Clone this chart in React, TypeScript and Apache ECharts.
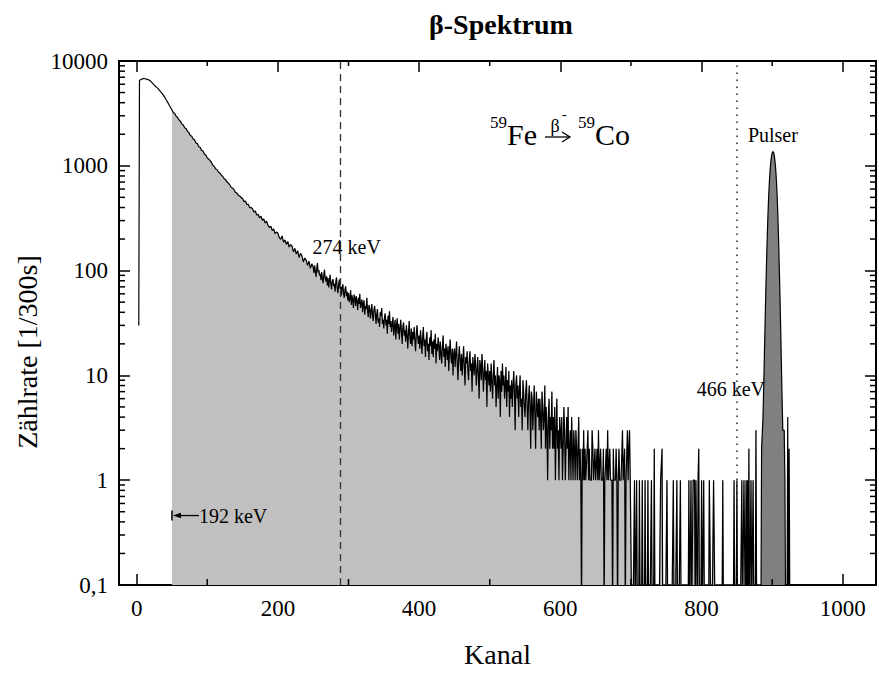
import React, { useEffect, useRef } from "react";
import * as echarts from "echarts";

// ---------- axis ranges & ticks ----------
const X_MIN = -25;
const X_MAX = 1047;
const Y_MIN = 0.1;
const Y_MAX = 10000;
const xMajorTicks = [0, 200, 400, 600, 800, 1000];
const xMinorTicks = [100, 300, 500, 700, 900];
const yDecades = [0.1, 1, 10, 100, 1000];
const yMinorFactors = [2, 3, 4, 5, 6, 7, 8, 9];

// ---------- spectrum (counts per channel) ----------
const startChannel = 3;
const startCount = 30;
// channels 4..48, step 2
const headCounts = [
  6500, 6650, 6760, 6790, 6770, 6720, 6650, 6560, 6400, 6190, 5990, 5800,
  5630, 5480, 5290, 5070, 4910, 4690, 4480, 4240, 4030, 3810, 3600,
];
// channels 50..248, step 2
const betaCounts1 = [
  3402, 3230, 3145, 2968, 2890, 2731, 2665, 2510, 2449, 2310, 2262, 2131, 2079,
  1951, 1912, 1803, 1770, 1652, 1629, 1521, 1497, 1398, 1384, 1289, 1270,
  1188, 1164, 1118, 1071, 1009, 985, 931, 917, 869, 851, 815, 790, 752, 738,
  699, 683, 655, 621, 611, 590, 556, 549, 522, 515, 497,
  488, 455, 461, 427, 430, 398, 401, 389, 362, 371, 339, 345, 318, 331, 302,
  311, 285, 296, 270, 258, 266, 241, 250, 226, 233,
  228, 206, 199, 214, 187, 196, 178, 190, 168, 177, 172, 151, 163, 144, 155,
  133, 146, 139, 121, 132, 126, 112, 123, 105, 116,
];
// channels 250..599, every channel
const betaCounts2 = [
  108, 95, 112, 99, 87, 104, 118, 96, 101, 90,
  93, 81, 97, 85, 76, 90, 102, 84, 79, 88,
  72, 85, 69, 80, 91, 74, 66, 79, 83, 71,
  75, 63, 78, 86, 68, 61, 73, 82, 67, 71,
  58, 69, 74, 60, 55, 66, 71, 57, 63, 52,
  61, 50, 54, 65, 47, 58, 52, 44, 59, 55,
  46, 57, 51, 42, 55, 48, 60, 44, 49, 53,
  40, 49, 52, 38, 46, 43, 55, 41, 36, 47,
  44, 35, 41, 48, 37, 33, 42, 46, 39, 31,
  38, 43, 32, 35, 29, 40, 37, 44, 31, 34,
  28, 36, 39, 30, 34, 25, 37, 31, 41, 29,
  33, 26, 31, 36, 24, 29, 34, 22, 30, 35,
  25, 31, 22, 28, 34, 26, 20, 29, 32, 24,
  27, 21, 30, 24, 18, 26, 33, 23, 20, 28,
  19, 26, 22, 29, 21, 17, 25, 30, 23, 20,
  24, 18, 27, 21, 16, 23, 29, 19, 22, 15,
  22, 26, 17, 20, 14, 23, 19, 27, 16, 21,
  15, 22, 18, 25, 13, 20, 17, 23, 19, 14,
  21, 16, 13, 19, 24, 15, 18, 12, 20, 17,
  14, 19, 11, 17, 22, 15, 13, 18, 10, 16,
  18, 12, 16, 21, 13, 9, 15, 19, 14, 11,
  16, 10, 14, 19, 12, 8, 15, 13, 17, 11,
  9, 14, 17, 11, 13, 7, 15, 12, 10, 16,
  13, 8, 11, 15, 10, 6, 14, 12, 9, 16,
  12, 7, 10, 14, 9, 11, 5, 13, 10, 8,
  11, 7, 13, 9, 6, 10, 14, 8, 10, 5,
  8, 12, 6, 10, 9, 4, 11, 7, 13, 8,
  10, 6, 8, 12, 5, 9, 7, 11, 4, 8,
  6, 9, 5, 8, 11, 7, 3, 8, 10, 6,
  8, 4, 7, 10, 5, 6, 3, 9, 7, 5,
  4, 7, 9, 5, 3, 6, 8, 5, 2, 7,
  6, 3, 5, 8, 4, 2, 7, 5, 4, 6,
  3, 6, 4, 2, 7, 5, 3, 4, 8, 2,
  5, 3, 1, 4, 6, 2, 4, 3, 7, 2,
  4, 2, 5, 1, 3, 6, 2, 3, 1, 4,
];
// channels 600..700, every channel
const edgeCounts = [
  3, 2, 4, 1, 2, 5, 3, 1, 2, 4,
  2, 5, 1, 2, 3, 1, 4, 2, 1, 3,
  2, 1, 3, 2, 1, 2, 4, 1, 2, 1,
  0, 2, 1, 3, 1, 2, 1, 1, 2, 3,
  1, 2, 1, 1, 1, 3, 2, 1, 1, 2,
  1, 1, 2, 1, 3, 1, 1, 2, 1, 1,
  1, 2, 0, 1, 1, 2, 1, 3, 1, 1,
  2, 1, 1, 1, 0, 2, 1, 1, 1, 2,
  1, 0, 1, 2, 1, 1, 1, 1, 3, 1,
  1, 2, 0, 1, 1, 3, 1, 2, 3, 1,
  1,
];
// channels 701..884: single counts (all other channels 0)
const sparseHits: [number, number][] = [
  [705, 1], [708, 1], [712, 1], [716, 1], [720, 1], [724, 1], [729, 1],
  [733, 2], [742, 1], [743, 1], [744, 2], [751, 1], [760, 1], [765, 1],
  [770, 1], [782, 1], [785, 1], [788, 1], [789, 1], [790, 1], [792, 1],
  [793, 1], [795, 1], [796, 2], [800, 1], [803, 1], [811, 1], [812, 1],
  [817, 1], [818, 1], [830, 1], [846, 1], [850, 1], [857, 1], [860, 1],
  [861, 1], [863, 1], [865, 1], [867, 2], [870, 1], [873, 1], [877, 3],
];
const sparseEnd = 884;
// pulser, channels 885..925
const pulserCounts = [
  2, 2, 4, 8, 16, 33, 65, 120, 210, 340, 510, 700, 900, 1080, 1230, 1330,
  1370, 1340, 1250, 1100, 920, 720, 520, 340, 200, 110, 58, 28, 13, 6, 3, 3,
  3, 1, 0, 0, 0, 4, 0, 2, 0,
];
const pulserStart = 885;

const FILL_FROM = 50; // 192 keV threshold
const PULSER_FILL = [884, 918];
const ZERO_PLOT = 0.05; // zero counts drawn below the axis floor (clipped)

const FONT = "Liberation Serif";

function buildSpectrum(): [number, number][] {
  const pts: [number, number][] = [[startChannel, startCount]];
  headCounts.forEach((c, i) => pts.push([4 + 2 * i, c]));
  betaCounts1.forEach((c, i) => pts.push([50 + 2 * i, c]));
  betaCounts2.forEach((c, i) => pts.push([250 + i, c]));
  edgeCounts.forEach((c, i) => pts.push([600 + i, c]));
  const hits = new Map(sparseHits);
  for (let ch = 701; ch <= sparseEnd; ch++) pts.push([ch, hits.get(ch) ?? 0]);
  pulserCounts.forEach((c, i) => pts.push([pulserStart + i, c]));
  return pts;
}

export default function App() {
  const ref = useRef<HTMLDivElement>(null);

  useEffect(() => {
    if (!ref.current) return;
    const chart = echarts.init(ref.current, null, { renderer: "svg" });

    const spectrum = buildSpectrum();
    const plot = spectrum.map(([x, c]) => [x, c > 0 ? c : ZERO_PLOT]);
    const betaFill = spectrum
      .filter(([x]) => x >= FILL_FROM && x <= sparseEnd)
      .map(([x, c]) => [x, c > 0 ? c : Y_MIN]);
    const pulserFill = plot.filter(
      ([x]) => x >= PULSER_FILL[0] && x <= PULSER_FILL[1]
    );
    const yMinor: number[] = [];
    yDecades.forEach((d) => yMinorFactors.forEach((f) => yMinor.push(d * f)));

    const axisLabelStyle = { fontFamily: FONT, fontSize: 23, color: "#000" };
    const lineBlack = { color: "#000", width: 2 };

    const xAxisBase = {
      type: "value" as const,
      min: X_MIN,
      max: X_MAX,
      splitNumber: 5,
      splitLine: { show: false },
      axisLine: { show: true, onZero: false, lineStyle: lineBlack },
      axisTick: { show: true, inside: true, length: 11, lineStyle: { color: "#000", width: 1.5 } },
    };
    const yAxisBase = {
      type: "log" as const,
      logBase: 10,
      min: Y_MIN,
      max: Y_MAX,
      splitLine: { show: false },
      axisLine: { show: true, onZero: false, lineStyle: lineBlack },
      axisTick: { show: true, inside: true, length: 11, lineStyle: { color: "#000", width: 1.5 } },
    };

    const tickStyle = { stroke: "#000", lineWidth: 1.5 };

    chart.setOption({
      animation: false,
      backgroundColor: "#fff",
      title: {
        text: "β-Spektrum",
        left: 424,
        top: 5,
        textStyle: { fontFamily: FONT, fontWeight: "bold", fontSize: 28, color: "#000" },
      },
      grid: { left: 119, right: -4, top: 61, bottom: 82, containLabel: false },
      xAxis: [
        {
          ...xAxisBase,
          position: "bottom",
          name: "Kanal",
          nameLocation: "middle",
          nameGap: 55,
          nameTextStyle: { fontFamily: FONT, fontSize: 28, color: "#000" },
          axisLabel: {
            ...axisLabelStyle,
            margin: 12,
            formatter: (v: number) =>
              xMajorTicks.includes(Math.round(v)) && Math.abs(v - Math.round(v)) < 1e-6
                ? String(Math.round(v))
                : "",
          },
        },
        {
          ...xAxisBase,
          position: "top",
          axisLabel: { show: false },
        },
      ],
      yAxis: [
        {
          ...yAxisBase,
          position: "left",
          axisLabel: {
            ...axisLabelStyle,
            margin: 11,
            formatter: (v: number) => (v < 0.5 ? "0,1" : String(Math.round(v))),
          },
        },
        {
          ...yAxisBase,
          position: "right",
          axisLabel: { show: false },
        },
      ],
      series: [
        {
          name: "192 keV threshold area",
          type: "line",
          data: betaFill,
          symbol: "none",
          lineStyle: { width: 0.6, color: "#c0c0c0" },
          areaStyle: { color: "#c0c0c0", opacity: 1, origin: "start" },
          z: 1,
          silent: true,
        },
        {
          name: "Pulser area",
          type: "line",
          data: pulserFill,
          symbol: "none",
          lineStyle: { width: 0, opacity: 0 },
          areaStyle: { color: "#808080", opacity: 1, origin: "start" },
          z: 1,
          silent: true,
        },
        {
          name: "Spektrum",
          type: "line",
          data: plot,
          symbol: "none",
          lineStyle: { color: "#000", width: 1.2 },
          z: 3,
          markLine: {
            silent: true,
            symbol: "none",
            label: { show: false },
            data: [
              { xAxis: 289, lineStyle: { type: [7, 5], color: "#333", width: 1.3 } },
              { xAxis: 850, lineStyle: { type: [1.5, 5.5], color: "#222", width: 1.5 } },
            ],
          },
        },
        {
          name: "y minor ticks",
          type: "custom",
          coordinateSystem: "cartesian2d",
          silent: true,
          clip: false,
          z: 6,
          data: yMinor.map((v) => [X_MIN, v]),
          renderItem: (_p: any, api: any) => {
            const v = api.value(1);
            const l = api.coord([X_MIN, v]);
            const r = api.coord([X_MAX, v]);
            return {
              type: "group",
              children: [
                { type: "line", shape: { x1: l[0], y1: l[1], x2: l[0] + 6, y2: l[1] }, style: tickStyle },
                { type: "line", shape: { x1: r[0], y1: r[1], x2: r[0] - 6, y2: r[1] }, style: tickStyle },
              ],
            };
          },
        },
        {
          name: "x minor ticks",
          type: "custom",
          coordinateSystem: "cartesian2d",
          silent: true,
          clip: false,
          z: 6,
          data: xMinorTicks.map((c) => [c, Y_MIN]),
          renderItem: (_p: any, api: any) => {
            const c = api.value(0);
            const b = api.coord([c, Y_MIN]);
            const t = api.coord([c, Y_MAX]);
            return {
              type: "group",
              children: [
                { type: "line", shape: { x1: b[0], y1: b[1], x2: b[0], y2: b[1] - 6 }, style: tickStyle },
                { type: "line", shape: { x1: t[0], y1: t[1], x2: t[0], y2: t[1] + 5 }, style: tickStyle },
              ],
            };
          },
        },
      ],
    });

    // annotations anchored to data coordinates
    const px = (x: number, y: number) =>
      chart.convertToPixel({ xAxisIndex: 0, yAxisIndex: 0 }, [x, y]) as number[];
    const thr = px(FILL_FROM, 0.46);
    const t274 = px(289, 1);
    const t466 = px(850, 1);
    const tPul = px(901, 1);
    const txt = (text: string, x: number, y: number, size: number, align = "left", extra: any = {}) => ({
      type: "text",
      x,
      y,
      z: 20,
      ...extra,
      style: { text, fontFamily: FONT, fontSize: size, fill: "#000", align, verticalAlign: "middle" },
    });

    chart.setOption({
      graphic: [
        txt("Zählrate [1/300s]", 27, 352, 28, "center", { rotation: Math.PI / 2 }),
        txt("274 keV", t274[0] + 6, 247, 20, "center"),
        txt("466 keV", t466[0] - 6, 389, 20, "center"),
        txt("Pulser", tPul[0], 135, 20, "center"),
        txt("192 keV", thr[0] + 27, thr[1], 20, "left"),
        { type: "line", z: 20, shape: { x1: thr[0], y1: thr[1] - 5, x2: thr[0], y2: thr[1] + 5 }, style: { stroke: "#000", lineWidth: 1.5 } },
        { type: "polygon", z: 20, shape: { points: [[thr[0] + 0.8, thr[1]], [thr[0] + 9, thr[1] - 2.8], [thr[0] + 9, thr[1] + 2.8]] }, style: { fill: "#000" } },
        { type: "line", z: 20, shape: { x1: thr[0] + 8, y1: thr[1], x2: thr[0] + 27, y2: thr[1] }, style: { stroke: "#000", lineWidth: 1.3 } },
        // 59Fe --beta- --> 59Co
        txt("59", 490, 122, 17, "left"),
        txt("Fe", 507, 134, 30, "left"),
        txt("β", 555, 126, 18, "center"),
        txt("-", 562, 114, 14, "left"),
        { type: "line", z: 20, shape: { x1: 545, y1: 137, x2: 570, y2: 137 }, style: { stroke: "#000", lineWidth: 1.3 } },
        { type: "polyline", z: 20, shape: { points: [[562, 132], [570, 137], [562, 142]] }, style: { stroke: "#000", lineWidth: 1.3, fill: null } },
        txt("59", 578, 122, 17, "left"),
        txt("Co", 595, 134, 30, "left"),
      ],
    });

    return () => chart.dispose();
  }, []);

  return (
    <div
      ref={ref}
      style={{ position: "fixed", left: 0, top: 0, width: 879, height: 673, background: "#fff" }}
    />
  );
}
